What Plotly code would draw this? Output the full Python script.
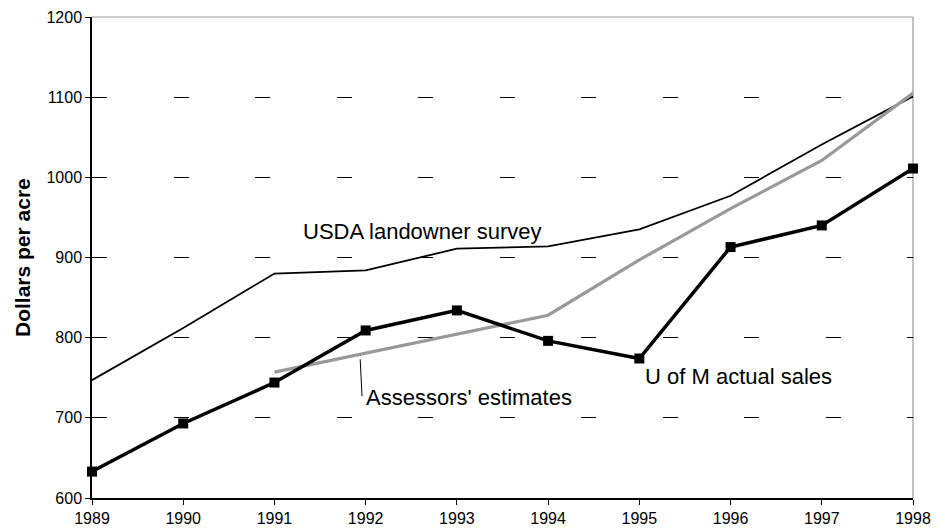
import plotly.graph_objects as go

years = [1989, 1990, 1991, 1992, 1993, 1994, 1995, 1996, 1997, 1998]
usda_survey = [747, 812, 880, 884, 911, 914, 935, 977, 1041, 1101]
uofm_sales = [633, 693, 744, 809, 834, 796, 774, 913, 940, 1011]
assess_years = [1991, 1992, 1993, 1994, 1995, 1996, 1997, 1998]
assessors = [757, 781, 805, 828, 897, 961, 1021, 1105]
y_ticks = [600, 700, 800, 900, 1000, 1100, 1200]

FONT = "Arial, Liberation Sans, sans-serif"

fig = go.Figure()
fig.add_trace(go.Scatter(x=years, y=usda_survey, mode="lines",
                         line=dict(color="black", width=1.8), name="USDA landowner survey",
                         cliponaxis=False))
fig.add_trace(go.Scatter(x=assess_years, y=assessors, mode="lines",
                         line=dict(color="#999999", width=3.2), name="Assessors' estimates",
                         cliponaxis=False))
fig.add_trace(go.Scatter(x=years, y=uofm_sales, mode="lines+markers",
                         line=dict(color="black", width=3.5),
                         marker=dict(symbol="square", size=10, color="black"),
                         name="U of M actual sales", cliponaxis=False))

# page body has an 8px margin: margins compensate for it
fig.update_layout(
    template="none",
    width=945, height=531,
    autosize=False,
    margin=dict(l=84, r=40, t=9, b=41, pad=0),
    plot_bgcolor="white", paper_bgcolor="white",
    showlegend=False,
    font=dict(family=FONT, color="black"),
    xaxis=dict(range=[1989, 1998], tickvals=years, ticktext=[str(y) for y in years],
               automargin=False,
               showgrid=False, zeroline=False, showline=True, linecolor="black", linewidth=1.5,
               ticks="outside", ticklen=5, tickwidth=1.2, tickcolor="black",
               tickfont=dict(size=16, family=FONT, color="black")),
    yaxis=dict(range=[600, 1200], tickvals=y_ticks,
               automargin=False,
               showgrid=True, gridcolor="black", gridwidth=1, griddash="15px,66.5px",
               zeroline=False, showline=True, linecolor="black", linewidth=1.5,
               ticks="outside", ticklen=5, tickwidth=1.2, tickcolor="black",
               tickfont=dict(size=16, family=FONT, color="black")),
)

# grey top and right border
fig.add_shape(type="line", xref="paper", yref="paper", x0=0, x1=1, y0=1, y1=1,
              line=dict(color="#999999", width=1.2), layer="below")
fig.add_shape(type="line", xref="paper", yref="paper", x0=1, x1=1, y0=0, y1=1,
              line=dict(color="#999999", width=1.2), layer="below")

# pointer line for assessors' label
fig.add_shape(type="line", xref="x", yref="y", x0=1991.94, x1=1991.96, y0=773, y1=727,
              line=dict(color="black", width=1))

fig.add_annotation(x=1991.29, y=933, xref="x", yref="y", text="USDA landowner survey",
                   showarrow=False, xanchor="left", yanchor="middle",
                   font=dict(size=22, family=FONT, color="black"))
fig.add_annotation(x=1991.98, y=725, xref="x", yref="y", text="Assessors' estimates",
                   showarrow=False, xanchor="left", yanchor="middle",
                   font=dict(size=22, family=FONT, color="black"))
fig.add_annotation(x=1995.04, y=751, xref="x", yref="y", text="U of M actual sales",
                   showarrow=False, xanchor="left", yanchor="middle",
                   font=dict(size=22, family=FONT, color="black"))

fig.add_annotation(x=0, y=0.5, xref="paper", yref="paper", xshift=-69.5,
                   text="<b>Dollars per acre</b>", textangle=-90, showarrow=False,
                   xanchor="center", yanchor="middle",
                   font=dict(size=21, family=FONT, color="black"))

fig.write_html("out.html")
